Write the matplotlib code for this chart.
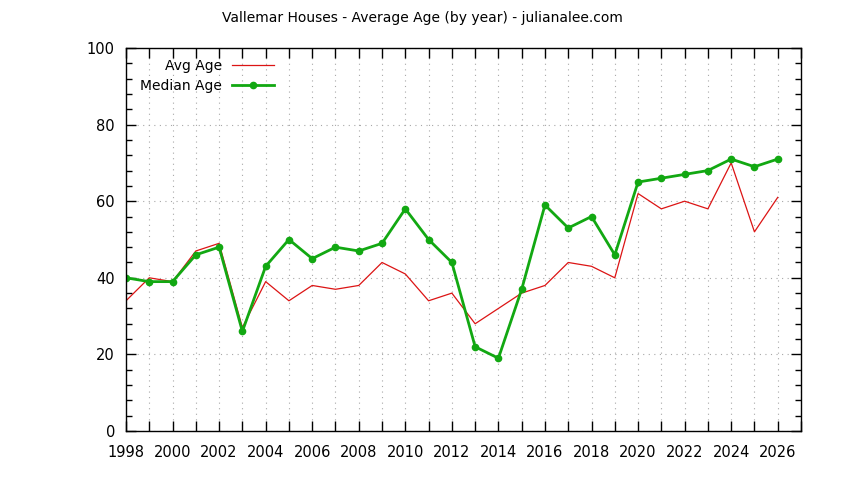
import matplotlib
matplotlib.use('Agg')
import matplotlib.pyplot as plt
from matplotlib.ticker import MultipleLocator, FuncFormatter

years = list(range(1998, 2027))
avg_age = [34, 40, 39, 47, 49, 27, 39, 34, 38, 37, 38, 44, 41, 34, 36, 28,
           32, 36, 38, 44, 43, 40, 62, 58, 60, 58, 70, 52, 61]
median_age = [40, 39, 39, 46, 48, 26, 43, 50, 45, 48, 47, 49, 58, 50, 44, 22,
              19, 37, 59, 53, 56, 46, 65, 66, 67, 68, 71, 69, 71]

plt.rcParams['font.family'] = ['DejaVu Sans']
plt.rcParams['font.size'] = 10

fig = plt.figure(figsize=(8.44, 4.8), dpi=100)
W, H = 844, 480
ax = fig.add_axes([126 / W, 1 - 431 / H, (801 - 126) / W, (431 - 48) / H])

ax.plot(years, avg_age, color='#dc1414', lw=0.9, label='Avg Age')
ax.plot(years, median_age, color='#12a812', lw=2.0, marker='o', ms=4.5,
        label='Median Age')

ax.set_xlim(1998, 2027)
ax.set_ylim(0, 100)
ax.xaxis.set_major_locator(MultipleLocator(1))
ax.xaxis.set_major_formatter(FuncFormatter(lambda v, p: f'{int(round(v))}' if int(round(v)) % 2 == 0 else ''))
ax.yaxis.set_major_locator(MultipleLocator(20))
ax.yaxis.set_minor_locator(MultipleLocator(4))

ax.tick_params(which='both', direction='in', top=True, right=True, width=1, colors='black')
ax.tick_params(which='major', length=7)
ax.tick_params(which='minor', length=4)
ax.tick_params(axis='x', which='major', labelsize=10.5, pad=10)
ax.tick_params(axis='y', which='major', labelsize=10.5, pad=8)

ax.grid(True, which='major', color='#a8a8a8', lw=0.8, ls=(0, (1, 4)))
ax.set_axisbelow(True)
for s in ax.spines.values():
    s.set_linewidth(1)

fig.text(0.5, 1 - 18 / H, 'Vallemar Houses - Average Age (by year) - julianalee.com',
         fontsize=10, ha='center', va='center')

leg = ax.legend(loc='upper right', bbox_to_anchor=((274 - 126) / 675, (431 - 59) / 383),
                frameon=False, markerfirst=False, borderpad=0, borderaxespad=0,
                handlelength=3.0, handletextpad=0.75, labelspacing=0.4, fontsize=10)

fig.savefig('out.png', dpi=100)
